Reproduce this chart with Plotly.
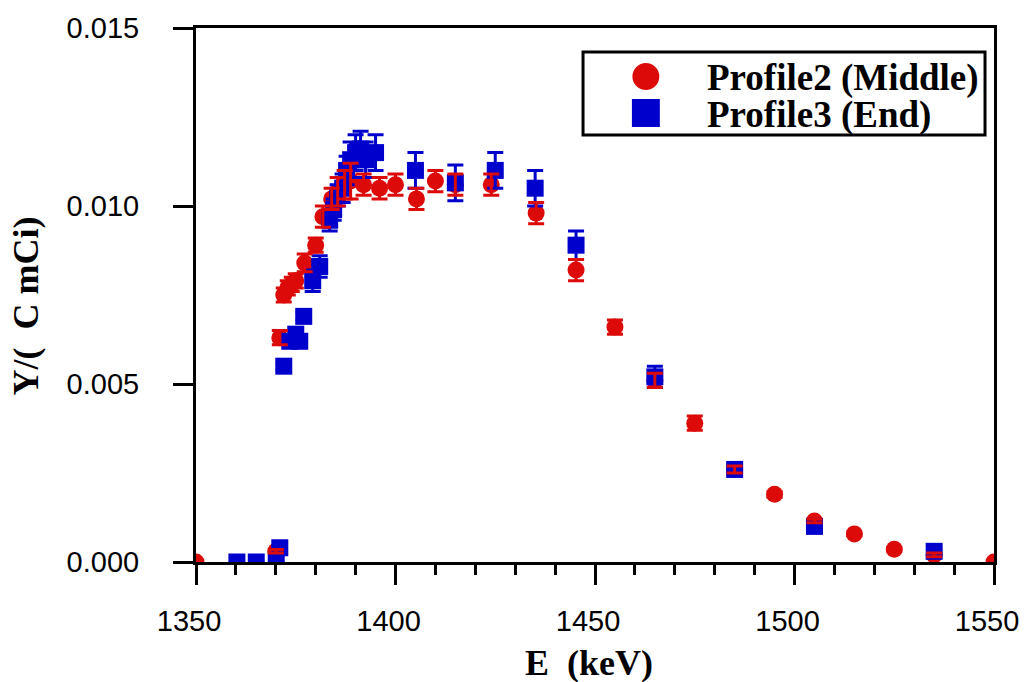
import plotly.graph_objects as go

# Profile2 (Middle): energy (keV), yield, error
p2_e = [1350, 1370, 1371, 1372, 1373, 1374, 1375, 1377.25, 1380, 1381.8, 1384, 1385.5,
        1387.25, 1388.75, 1392, 1396, 1400, 1405.25, 1410, 1415, 1424, 1435.25, 1445.25,
        1455, 1465, 1475, 1485, 1495, 1505, 1515, 1525, 1535, 1550]
p2_y = [0.0, 0.0003, 0.0063, 0.0075, 0.0077, 0.0078, 0.0079, 0.0084, 0.0089, 0.0097, 0.0102, 0.0104,
        0.0106, 0.0107, 0.0106, 0.0105, 0.0106, 0.0102, 0.0107, 0.0106, 0.0106, 0.0098, 0.0082,
        0.0066, 0.0051, 0.0039, 0.0026, 0.0019, 0.00115, 0.00079, 0.00036, 0.0002, 0.0]
p2_err = [0.0, 0.00005, 0.0002, 0.0002, 0.0002, 0.0002, 0.0002, 0.00025, 0.0002, 0.0003, 0.0003, 0.0004,
          0.0004, 0.0005, 0.0003, 0.0003, 0.0003, 0.0003, 0.0003, 0.0003, 0.0003, 0.0003, 0.0003,
          0.0002, 0.0002, 0.0002, 0.0001, 0.00008, 0.00005, 0.00005, 0.00005, 0.00005, 0.0]

# Profile3 (End)
p3_e = [1360.25, 1365.1, 1370.1, 1371, 1372, 1373.5, 1375, 1376, 1377, 1379.25, 1381,
        1383.5, 1384.5, 1385.5, 1386.75, 1387.75, 1388.75, 1390, 1391.25, 1392.5, 1395,
        1405, 1415, 1425, 1435, 1445.25, 1465, 1485, 1505, 1535]
p3_y = [0.0, 0.0, 0.0, 0.0004, 0.0055, 0.0062, 0.0064, 0.0062, 0.0069, 0.0079, 0.0083,
        0.0096, 0.0099, 0.0103, 0.0105, 0.0110, 0.0113, 0.0115, 0.0116, 0.0113, 0.0115,
        0.0110, 0.01065, 0.0110, 0.0105, 0.0089, 0.0052, 0.0026, 0.0010, 0.0003]
p3_err = [0.0, 0.0, 0.0, 0.0, 0.0001, 0.0001, 0.0001, 0.0001, 0.0001, 0.0003, 0.0003,
          0.0003, 0.0003, 0.0003, 0.0004, 0.0004, 0.0005, 0.0005, 0.0005, 0.0005, 0.0005,
          0.0005, 0.0005, 0.0005, 0.0005, 0.0004, 0.0003, 0.0001, 0.0001, 0.00005]

RED = "#dd0a0a"
BLUE = "#0000cc"

W, H = 1031, 682
L, R, T, B = 196, 35, 28, 120
PW, PH = W - L - R, H - T - B


def px_x(p):
    return (p - L) / PW


def px_y(p):
    return (H - B - p) / PH


fig = go.Figure()

# markers first, error bars on top
fig.add_trace(go.Scatter(x=p2_e, y=p2_y, mode="markers", name="Profile2 (Middle)",
                         marker=dict(symbol="circle", size=17, color=RED, line=dict(width=0)),
                         showlegend=False))
fig.add_trace(go.Scatter(x=p3_e, y=p3_y, mode="markers", name="Profile3 (End)",
                         marker=dict(symbol="square", size=17, color=BLUE, line=dict(width=0)),
                         showlegend=False))
fig.add_trace(go.Scatter(x=p3_e, y=p3_y, mode="markers", marker=dict(size=1, opacity=0),
                         error_y=dict(type="data", array=p3_err, color=BLUE, thickness=3, width=8),
                         showlegend=False, hoverinfo="skip"))
fig.add_trace(go.Scatter(x=p2_e, y=p2_y, mode="markers", marker=dict(size=1, opacity=0),
                         error_y=dict(type="data", array=p2_err, color=RED, thickness=3, width=8),
                         showlegend=False, hoverinfo="skip"))

tick_font = dict(family="Liberation Sans, Arial, sans-serif", size=29, color="black")
title_font = dict(family="Liberation Serif, Times New Roman, serif", size=36, color="black")
legend_font = dict(family="Liberation Serif, Times New Roman, serif", size=37, color="black")

fig.update_xaxes(range=[1350, 1550], dtick=50, tick0=1350, showgrid=False, zeroline=False,
                 showline=True, linewidth=3, linecolor="black", mirror=True,
                 ticks="outside", ticklen=20, tickwidth=2.5, tickcolor="black",
                 minor=dict(dtick=10, ticklen=10, tickwidth=2.5, tickcolor="black", ticks="outside"),
                 tickfont=tick_font, ticklabelstandoff=11, ticklabelshift=-7)
fig.update_yaxes(range=[0, 0.015], dtick=0.005, tick0=0, tickformat=".3f", showgrid=False,
                 zeroline=False, showline=True, linewidth=3, linecolor="black", mirror=True,
                 ticks="outside", ticklen=20, tickwidth=2.5, tickcolor="black",
                 tickfont=tick_font, ticklabelstandoff=28)

annotations = [
    dict(text="<b>E\u00a0 (keV)</b>", x=px_x(590), y=px_y(663), xref="paper", yref="paper",
         xanchor="center", yanchor="middle", showarrow=False, font=title_font),
    dict(text="<b>Y/(\u00a0 C mCi)</b>", x=px_x(26), y=px_y(306), xref="paper", yref="paper",
         xanchor="center", yanchor="middle", showarrow=False, font=title_font, textangle=-90),
    dict(text="<b>Profile2 (Middle)</b>", x=px_x(706), y=px_y(78), xref="paper", yref="paper",
         xanchor="left", yanchor="middle", showarrow=False, font=legend_font),
    dict(text="<b>Profile3 (End)</b>", x=px_x(706), y=px_y(115), xref="paper", yref="paper",
         xanchor="left", yanchor="middle", showarrow=False, font=legend_font),
]

shapes = [
    dict(type="rect", xref="paper", yref="paper", x0=px_x(584), x1=px_x(987),
         y0=px_y(135), y1=px_y(52), line=dict(color="black", width=3), fillcolor="white",
         layer="above"),
    dict(type="circle", xref="paper", yref="paper", x0=px_x(633.5), x1=px_x(660.5),
         y0=px_y(90), y1=px_y(63), line=dict(width=0), fillcolor=RED, layer="above"),
    dict(type="rect", xref="paper", yref="paper", x0=px_x(633), x1=px_x(661),
         y0=px_y(127), y1=px_y(99), line=dict(width=0), fillcolor=BLUE, layer="above"),
]

fig.update_layout(width=W, height=H, margin=dict(l=L, r=R, t=T, b=B, pad=0),
                  plot_bgcolor="white", paper_bgcolor="white",
                  annotations=annotations, shapes=shapes, showlegend=False)

fig.write_html("out.html")
